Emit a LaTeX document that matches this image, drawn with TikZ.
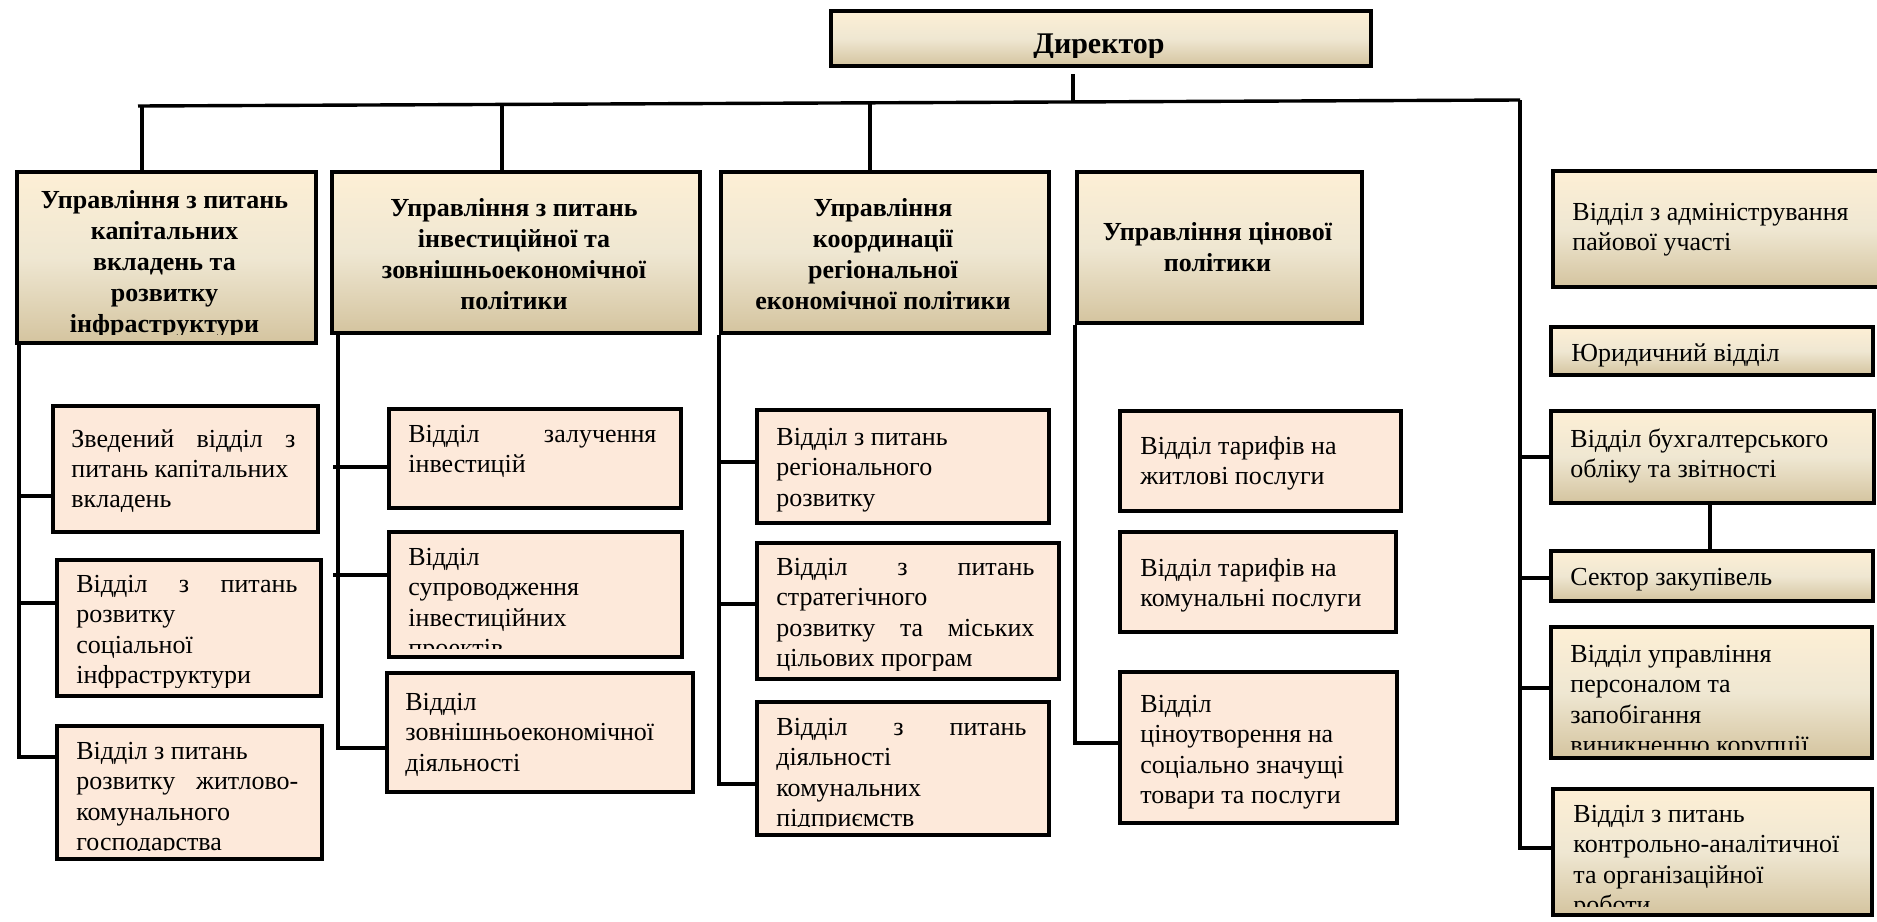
\documentclass[tikz,border=0pt]{standalone}
\usepackage{fontspec}
\setmainfont{Liberation Serif}
\usetikzlibrary{shadows}

\definecolor{hdrtop}{HTML}{FDEFD5}
\definecolor{hdrmid}{HTML}{EFE7D2}
\definecolor{hdrbot}{HTML}{D4C49F}
\definecolor{subfill}{HTML}{FDE9DA}

\tikzset{
  hdrbox/.style={draw, line width=2pt, inner sep=0,
    top color=hdrtop, bottom color=hdrbot, middle color=hdrmid,
    drop shadow={shadow xshift=1pt, shadow yshift=-1pt, opacity=0.25}},
  subbox/.style={draw, line width=2pt, inner sep=0, fill=subfill,
    drop shadow={shadow xshift=1pt, shadow yshift=-1pt, opacity=0.25}},
  hdrtext/.style={anchor=north, align=center, inner sep=0,
    font=\bfseries\fontsize{13}{15.5}\selectfont},
  subtext/.style={anchor=north west, align=left, inner sep=0,
    font=\fontsize{13}{15.1}\selectfont},
  link/.style={line width=1.7pt},
}

% box from outer corner (x1,y1) to (x2,y2), in pixels of the layout
\newcommand{\orgbox}[6]{%
  \node[#2, anchor=north west, minimum width={(#5-#3-4)*0.5pt},
    minimum height={(#6-#4-4)*0.5pt}] (#1) at (#3+2,#4+2) {};}
% text of a box, cut off at the box's text frame
\newcommand{\boxtext}[4]{%
  \begin{scope}
    \clip ([shift={(1pt,-1pt)}]#1.north west) rectangle ([shift={(-1pt,5.5pt)}]#1.south east);
    \node[#2] (#1-text) at (#3) {#4};
  \end{scope}}

\begin{document}
\begin{tikzpicture}[x=0.5pt,y=-0.5pt]
    \useasboundingbox (0,0) rectangle (1877,921);

    % top level
    \orgbox{dir}{hdrbox}{827}{7}{1371}{66}
    \boxtext{dir}{hdrtext, font=\bfseries\fontsize{15}{17}\selectfont}{1099,33}{Директор}

    \orgbox{h1}{hdrbox}{13}{168}{316}{343}
    \orgbox{h2}{hdrbox}{328}{168}{700}{333}
    \orgbox{h3}{hdrbox}{717}{168}{1049}{333}
    \orgbox{h4}{hdrbox}{1073}{168}{1362}{323}
    \boxtext{h1}{hdrtext}{164.5,190}{Управління з питань\\капітальних\\вкладень та\\розвитку\\інфраструктури}
    \boxtext{h2}{hdrtext}{514,198}{Управління з питань\\інвестиційної та\\зовнішньоекономічної\\політики}
    \boxtext{h3}{hdrtext}{883,198}{Управління\\координації\\регіональної\\економічної політики}
    \boxtext{h4}{hdrtext}{1217.5,222}{Управління цінової\\політики}

    % departments
    \orgbox{a1}{subbox}{49}{402}{318}{532}
    \orgbox{a2}{subbox}{53}{556}{321}{696}
    \orgbox{a3}{subbox}{53}{722}{322}{859}
    \boxtext{a1}{subtext}{71,429}{\makebox[112pt][s]{Зведений відділ з}\\питань капітальних\\вкладень}
    \boxtext{a2}{subtext}{76,575}{\makebox[110.5pt][s]{Відділ з питань}\\розвитку\\соціальної\\інфраструктури}
    \boxtext{a3}{subtext}{76,742}{Відділ з питань\\\makebox[111pt][s]{розвитку житлово-}\\комунального\\господарства}

    \orgbox{b1}{subbox}{385}{405}{681}{508}
    \orgbox{b2}{subbox}{385}{528}{682}{657}
    \orgbox{b3}{subbox}{383}{669}{693}{792}
    \boxtext{b1}{subtext}{408,425}{\makebox[124pt][s]{Відділ залучення}\\інвестицій}
    \boxtext{b2}{subtext}{408,548}{Відділ\\супроводження\\інвестиційних\\проектів}
    \boxtext{b3}{subtext}{405,693}{Відділ\\зовнішньоекономічної\\діяльності}

    \orgbox{c1}{subbox}{753}{406}{1049}{523}
    \orgbox{c2}{subbox}{753}{539}{1059}{679}
    \orgbox{c3}{subbox}{753}{698}{1049}{835}
    \boxtext{c1}{subtext}{776,428}{Відділ з питань\\регіонального\\розвитку}
    \boxtext{c2}{subtext}{776,558}{\makebox[129pt][s]{Відділ з питань}\\стратегічного\\\makebox[129pt][s]{розвитку та міських}\\цільових програм}
    \boxtext{c3}{subtext}{776,718}{\makebox[125pt][s]{Відділ з питань}\\діяльності\\комунальних\\підприємств}

    \orgbox{d1}{subbox}{1116}{407}{1401}{511}
    \orgbox{d2}{subbox}{1116}{528}{1396}{632}
    \orgbox{d3}{subbox}{1116}{668}{1397}{823}
    \boxtext{d1}{subtext}{1140,436}{Відділ тарифів на\\житлові послуги}
    \boxtext{d2}{subtext}{1140,558}{Відділ тарифів на\\комунальні послуги}
    \boxtext{d3}{subtext}{1140,695}{Відділ\\ціноутворення на\\соціально значущі\\товари та послуги}

    % right column
    \orgbox{r1}{hdrbox}{1549}{167}{1884}{287}
    \orgbox{r2}{hdrbox}{1547}{323}{1873}{375}
    \orgbox{r3}{hdrbox}{1547}{407}{1874}{503}
    \orgbox{r4}{hdrbox}{1547}{547}{1873}{601}
    \orgbox{r5}{hdrbox}{1547}{623}{1872}{758}
    \orgbox{r6}{hdrbox}{1549}{785}{1872}{915}
    \boxtext{r1}{subtext}{1572,203}{Відділ з адміністрування\\пайової участі}
    \boxtext{r2}{subtext}{1571,343}{Юридичний відділ}
    \boxtext{r3}{subtext}{1570,428}{Відділ бухгалтерського\\обліку та звітності}
    \boxtext{r4}{subtext}{1570,568}{Сектор закупівель}
    \boxtext{r5}{subtext}{1570,645}{Відділ управління\\персоналом та\\запобігання\\виникненню корупції}
    \boxtext{r6}{subtext}{1573,805}{Відділ з питань\\контрольно-аналітичної\\та організаційної\\роботи}

    % bus and drops
    \coordinate (busL) at (138,106);
    \coordinate (busR) at (1520,100);
    \coordinate (jd) at (1073,102);
    \coordinate (jdtop) at (1073,74);
    \coordinate (j1) at (142,106);
    \coordinate (j2) at (502,104.4);
    \coordinate (j3) at (870,102.8);
    \draw[link] (jdtop) -- (jd);
    \draw[link] (busL) -- (busR);
    \draw[link] (j1) -- (j1 |- h1.north);
    \draw[link] (j2) -- (j2 |- h2.north);
    \draw[link] (j3) -- (j3 |- h3.north);

    % trunks
    \coordinate (ta) at (19,757);
    \coordinate (tb) at (338,748);
    \coordinate (tc) at (719,784);
    \coordinate (td) at (1075,743);
    \coordinate (tr) at (1520,848);
    \draw[link] (ta |- h1.south) -- (ta) -- (a3.west |- ta);
    \draw[link] (19,496) -- (a1.west |- 0,496);
    \draw[link] (19,603) -- (a2.west |- 0,603);
    \draw[link] (tb |- h2.south) -- (tb) -- (b3.west |- tb);
    \draw[link] (333,467) -- (b1.west |- 0,467);
    \draw[link] (333,575) -- (b2.west |- 0,575);
    \draw[link] (tc |- h3.south) -- (tc) -- (c3.west |- tc);
    \draw[link] (719,462) -- (c1.west |- 0,462);
    \draw[link] (719,604) -- (c2.west |- 0,604);
    \draw[link] (td |- h4.south) -- (td) -- (d3.west |- td);
    \draw[link] (busR) -- (tr) -- (r6.west |- tr);
    \draw[link] (1520,457) -- (r3.west |- 0,457);
    \draw[link] (1520,578) -- (r4.west |- 0,578);
    \draw[link] (1520,688) -- (r5.west |- 0,688);
    \draw[link] (r3.south -| 1710,0) -- (r4.north -| 1710,0);
\end{tikzpicture}
\end{document}
